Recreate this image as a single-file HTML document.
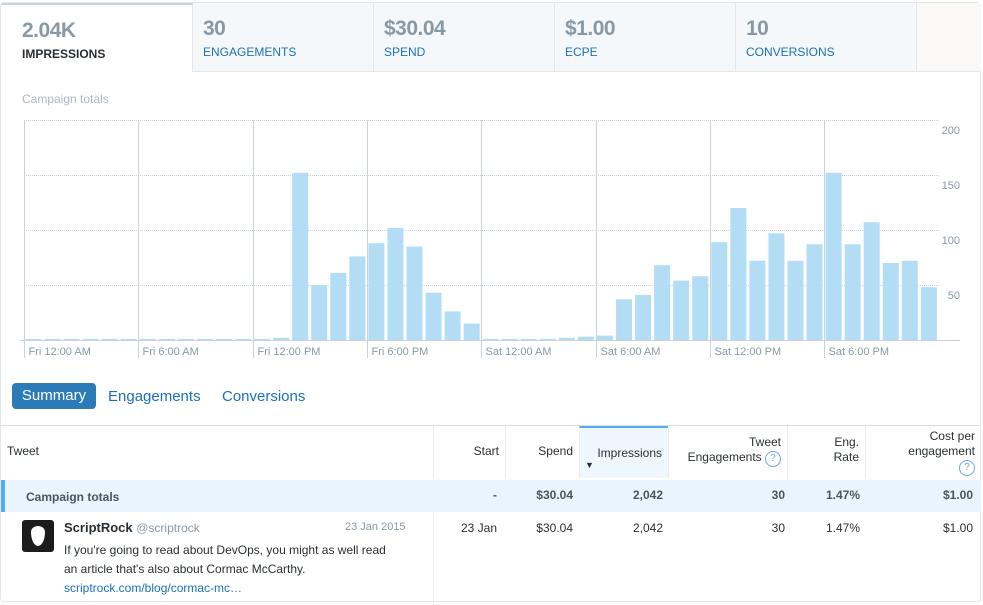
<!DOCTYPE html>
<html><head><meta charset="utf-8"><style>
body{margin:0;width:983px;height:605px;overflow:hidden;background:#fff;font-family:"Liberation Sans",Arial,sans-serif;color:#292f33;position:relative}
.abs{position:absolute}
.tab{position:absolute;top:3px;height:69px;background:#f5f8fa;border-right:1px solid #e1e8ed;border-bottom:1px solid #e1e8ed;box-sizing:border-box}
.tab .v{position:absolute;left:10px;top:14px;font-size:21px;font-weight:bold;color:#8899a6;letter-spacing:-0.5px}
.tab .l{position:absolute;left:10px;top:42px;font-size:12px;color:#1b70b8}
.hd{position:absolute;top:426px;height:52px;font-size:12px;color:#292f33;text-align:right;box-sizing:border-box;border-left:1px solid #e8edf0;padding-right:6px}
.q{display:inline-block;width:14px;height:14px;border:1px solid #6aa8e0;border-radius:50%;color:#6aa8e0;font-size:10px;text-align:center;line-height:14px}
.c{position:absolute;font-size:12px;text-align:right}
</style></head><body>
<div class="abs" style="left:0;top:2px;width:981px;height:600px;border:1px solid #e1e8ed;border-radius:4px;box-sizing:border-box"></div>
<div class="tab" style="left:1px;width:192px;background:#fff;border-bottom:none;border-top:2px solid #ccd6dd"><div class="v" style="left:21px;color:#8899a6">2.04K</div><div class="l" style="left:21px;color:#292f33;font-weight:bold">IMPRESSIONS</div></div>
<div class="tab" style="left:193px;width:181px"><div class="v">30</div><div class="l">ENGAGEMENTS</div></div>
<div class="tab" style="left:374px;width:181px"><div class="v">$30.04</div><div class="l">SPEND</div></div>
<div class="tab" style="left:555px;width:181px"><div class="v">$1.00</div><div class="l">ECPE</div></div>
<div class="tab" style="left:736px;width:181px"><div class="v">10</div><div class="l">CONVERSIONS</div></div>
<div class="tab" style="left:917px;width:64px;border-right:none;background:#fbf8f8"></div>
<div class="abs" style="left:22px;top:92px;font-size:12px;color:#aab8c2">Campaign totals</div>
<svg id="chart" class="abs" style="left:0;top:110px" width="983" height="260"></svg>

<div class="abs" style="left:12px;top:383px;width:84px;height:26px;background:#2b7bb9;border-radius:4px;color:#fff;font-size:15px;line-height:26px;text-align:center">Summary</div>
<div class="abs" style="left:108px;top:388px;font-size:15px;color:#1b70b8">Engagements</div>
<div class="abs" style="left:222px;top:388px;font-size:15px;color:#1b70b8">Conversions</div>

<div class="abs" style="left:1px;top:425px;width:980px;height:1px;background:#d8e0e6"></div>
<div class="abs" style="left:7px;top:444px;font-size:12px">Tweet</div>
<div class="hd" style="left:433px;width:72px;padding-top:18px">Start</div>
<div class="hd" style="left:505px;width:74px;padding-top:18px">Spend</div>
<div class="hd" style="left:579px;width:89px;padding-top:18px;background:#eff7fe;border-top:2px solid #55acee">Impressions<span style="position:absolute;left:5px;top:32px;font-size:9px">▼</span></div>
<div class="hd" style="left:668px;width:119px;padding-top:9px;line-height:15px">Tweet<br>Engagements <span class="q">?</span></div>
<div class="hd" style="left:787px;width:78px;padding-top:9px;line-height:15px">Eng.<br>Rate</div>
<div class="hd" style="left:865px;width:116px;padding-top:3px;line-height:15px">Cost per<br>engagement<br><span class="q">?</span></div>

<div class="abs" style="left:1px;top:480px;width:980px;height:32px;background:#eaf4fc;border-left:4px solid #55acee;box-sizing:border-box"></div>
<div class="abs" style="left:26px;top:490px;font-size:12px;font-weight:bold;color:#4a5560">Campaign totals</div>
<div style="font-weight:bold;color:#4a5560">
<div class="c" style="right:486px;top:488px">-</div>
<div class="c" style="right:410px;top:488px">$30.04</div>
<div class="c" style="right:320px;top:488px">2,042</div>
<div class="c" style="right:198px;top:488px">30</div>
<div class="c" style="right:123px;top:488px">1.47%</div>
<div class="c" style="right:10px;top:488px">$1.00</div>
</div>
<div class="abs" style="left:22px;top:520px;width:32px;height:32px;background:#1c1c1c;border-radius:3px"><div style="position:absolute;left:9px;top:6px;width:14px;height:20px;background:#fff;border-radius:7px 7px 7px 7px / 6px 6px 14px 14px"></div></div>
<div class="abs" style="left:64px;top:520px;font-size:13px;font-weight:bold">ScriptRock <span style="font-weight:normal;color:#8899a6;font-size:12px">@scriptrock</span></div>
<div class="abs" style="left:345px;top:521px;font-size:11px;color:#8899a6">23 Jan 2015</div>
<div class="abs" style="left:64px;top:541px;font-size:12px;line-height:19px;width:330px">If you're going to read about DevOps, you might as well read an article that's also about Cormac McCarthy.<br><span style="color:#1b70b8">scriptrock.com/blog/cormac-mc…</span></div>
<div class="c" style="right:486px;top:521px">23 Jan</div>
<div class="c" style="right:410px;top:521px">$30.04</div>
<div class="c" style="right:320px;top:521px">2,042</div>
<div class="c" style="right:198px;top:521px">30</div>
<div class="c" style="right:123px;top:521px">1.47%</div>
<div class="c" style="right:10px;top:521px">$1.00</div>
<div class="abs" style="left:433px;top:512px;width:548px;height:93px;border-left:1px solid #eef1f3"></div>

<script>
const hourValues=[1,1,1,1,1,1,1,1,1,1,1,1,1,2,152,50,61,76,88,102,85,43,26,15,
1,1,1,1,2,3,4,37,41,68,54,58,89,120,72,97,72,87,152,87,107,70,72,48];
const tickLabels=["Fri 12:00 AM","Fri 6:00 AM","Fri 12:00 PM","Fri 6:00 PM","Sat 12:00 AM","Sat 6:00 AM","Sat 12:00 PM","Sat 6:00 PM"];
const yTicks=[50,100,150,200];
const svg=document.getElementById('chart');
const NS='http://www.w3.org/2000/svg';
const x0=24,hourW=19.05,base=230,yTop=10,yMax=200;
const xs=h=>x0+h*hourW;
const ys=v=>base-v/yMax*(base-yTop);
function mk(t,a){const e=document.createElementNS(NS,t);for(const k in a)e.setAttribute(k,a[k]);svg.appendChild(e);return e;}
yTicks.forEach(v=>{
 const l=mk('line',{x1:x0,x2:940,y1:ys(v)+.5,y2:ys(v)+.5,stroke:'#c9d3db','stroke-dasharray':'1,1'});
 
 
 const t=mk('text',{x:960,y:ys(v)+14,'text-anchor':'end','font-size':11,fill:'#8899a6'});
 t.textContent=v;
 
 
});
tickLabels.forEach((s,i)=>{
 const x=Math.round(xs(i*6))+.5;
 const l=mk('line',{x1:x,x2:x,y1:yTop,y2:base+18,stroke:'#c9d3db'});
 
 
 const t=mk('text',{x:x+4,y:base+15,'font-size':11,fill:'#8899a6'});
 t.textContent=s;
 
 
});
hourValues.forEach((v,i)=>{
 const r=mk('rect',{x:xs(i)+1.5,y:ys(v),width:16,height:base-ys(v),fill:'#b3dcf5'});
 
 
});
const ax=mk('line',{x1:x0-4,x2:960,y1:base+.5,y2:base+.5,stroke:'#c9d3db'});


</script>
</body></html>
